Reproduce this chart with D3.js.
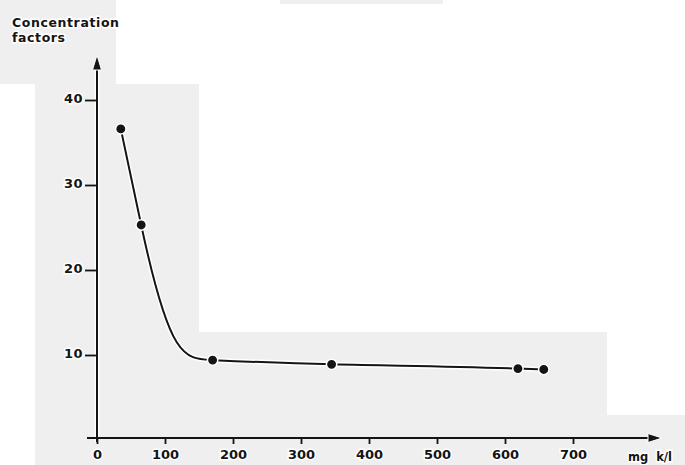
<!DOCTYPE html>
<html>
<head>
<meta charset="utf-8">
<script src="https://cdn.jsdelivr.net/npm/d3@7"></script>
<style>
  html, body { margin: 0; padding: 0; background: #ffffff; }
  svg { display: block; }
  text { font-family: "DejaVu Sans", sans-serif; fill: #141414; }
</style>
</head>
<body>
<svg id="chart" width="685" height="465"></svg>
<script>
// Potassium concentration in the water (mg k/l)
const concentration = [35, 65, 170, 345, 619, 657];
// Concentration factor measured at each level
const factor = [36.6, 25.3, 9.4, 8.9, 8.4, 8.3];

const xTicks = [0, 100, 200, 300, 400, 500, 600, 700];
const yTicks = [10, 20, 30, 40];
const yTitle = ["Concentration", "factors"];
const xUnit = "mg  k/l";

const svg = d3.select("#chart");

// paper tone patches of the printed page
const paper = "#efefef";
const patches = [
  [0, 0, 116, 84],
  [35, 84, 164, 381],
  [199, 332, 408, 133],
  [607, 415, 78, 50],
  [280, 0, 163, 4]
];
svg.append("g").selectAll("rect").data(patches).join("rect")
  .attr("x", d => d[0]).attr("y", d => d[1])
  .attr("width", d => d[2]).attr("height", d => d[3])
  .attr("fill", paper);

const x = d3.scaleLinear().domain([0, 700]).range([97, 573]);
const y = d3.scaleLinear().domain([0, 40]).range([440, 100]);
const axisY = 438;
const ink = "#141414";

// Akima-type spline with straight end conditions, drawn as cubic Béziers
function AkimaCurve(context) { this._context = context; }
AkimaCurve.prototype = {
  areaStart() { this._line = 0; },
  areaEnd() { this._line = NaN; },
  lineStart() { this._xs = []; this._ys = []; },
  point(px, py) { this._xs.push(+px); this._ys.push(+py); },
  lineEnd() {
    const xs = this._xs, ys = this._ys, n = xs.length, c = this._context;
    if (!n) return;
    c.moveTo(xs[0], ys[0]);
    if (n < 3) { for (let i = 1; i < n; i++) c.lineTo(xs[i], ys[i]); return; }
    const s = [];
    for (let i = 0; i < n - 1; i++) s.push((ys[i + 1] - ys[i]) / (xs[i + 1] - xs[i]));
    const S = i => s[Math.max(0, Math.min(n - 2, i))];
    const m = [];
    for (let i = 0; i < n; i++) {
      const w1 = Math.abs(S(i + 1) - S(i)), w2 = Math.abs(S(i - 1) - S(i - 2));
      m.push(w1 + w2 > 1e-9 ? (w1 * S(i - 1) + w2 * S(i)) / (w1 + w2) : (S(i - 1) + S(i)) / 2);
    }
    const k = 0.4;
    for (let i = 0; i < n - 1; i++) {
      const h = xs[i + 1] - xs[i];
      const lo = Math.min(ys[i], ys[i + 1]), hi = Math.max(ys[i], ys[i + 1]);
      const c1 = Math.max(lo, Math.min(hi, ys[i] + m[i] * k * h));
      const c2 = Math.max(lo, Math.min(hi, ys[i + 1] - m[i + 1] * k * h));
      c.bezierCurveTo(xs[i] + k * h, c1, xs[i + 1] - k * h, c2, xs[i + 1], ys[i + 1]);
    }
  }
};
const curveAkima = ctx => new AkimaCurve(ctx);

// white halo under dark strokes, as on the printed figure
function halo(sel, w) {
  return sel.clone(true).lower().attr("stroke", "#ffffff").attr("stroke-width", w);
}

const g = svg.append("g");

// y axis with arrow
const yAxisLine = g.append("line")
  .attr("x1", x(0)).attr("x2", x(0))
  .attr("y1", axisY + 4).attr("y2", 64)
  .attr("stroke", ink).attr("stroke-width", 2);
g.append("path")
  .attr("d", `M${x(0)},55 L${x(0) - 4.5},70 L${x(0) + 4.5},70 Z`)
  .attr("fill", ink).attr("stroke", "#fff").attr("stroke-width", 1);

// x axis with arrow
g.append("line")
  .attr("x1", 87).attr("x2", 652)
  .attr("y1", axisY).attr("y2", axisY)
  .attr("stroke", ink).attr("stroke-width", 2);
g.append("path")
  .attr("d", `M662,${axisY} L648,${axisY - 4.5} L648,${axisY + 4.5} Z`)
  .attr("fill", ink).attr("stroke", "#fff").attr("stroke-width", 1);

// y ticks and labels
const yAxis = g.append("g")
  .attr("transform", `translate(${x(0)},0)`)
  .call(d3.axisLeft(y).tickValues(yTicks).tickSize(12).tickSizeOuter(0).tickPadding(2));
yAxis.select(".domain").remove();
yAxis.selectAll(".tick line").attr("stroke", ink).attr("stroke-width", 1.8);
yAxis.selectAll(".tick text")
  .attr("font-size", 13).attr("font-weight", "bold").attr("dy", "0.2em")
  .attr("letter-spacing", 0.5)
  .attr("fill", ink).attr("font-family", "DejaVu Sans, sans-serif")
  .attr("stroke", "#fff").attr("stroke-width", 3).attr("paint-order", "stroke");

// x ticks and labels
const xAxis = g.append("g")
  .attr("transform", `translate(0,${axisY})`)
  .call(d3.axisBottom(x).tickValues(xTicks).tickSize(6).tickSizeOuter(0).tickPadding(6));
xAxis.select(".domain").remove();
xAxis.selectAll(".tick line").attr("stroke", ink).attr("stroke-width", 1.8);
xAxis.selectAll(".tick text")
  .attr("font-size", 13).attr("font-weight", "bold")
  .attr("fill", ink).attr("font-family", "DejaVu Sans, sans-serif")
  .attr("stroke", "#fff").attr("stroke-width", 3).attr("paint-order", "stroke");

// unit at the end of the x axis
g.append("text")
  .attr("x", 628).attr("y", 461)
  .attr("font-size", 11.5).attr("font-weight", "bold")
  .attr("stroke", "#fff").attr("stroke-width", 3).attr("paint-order", "stroke")
  .attr("xml:space", "preserve")
  .text(xUnit);

// axis title
g.append("g").selectAll("text").data(yTitle).join("text")
  .attr("x", 12).attr("y", (d, i) => 27 + i * 15)
  .attr("font-size", 12.5).attr("font-weight", "bold").attr("letter-spacing", 0.6)
  .attr("stroke", "#fff").attr("stroke-width", 3).attr("paint-order", "stroke")
  .text(d => d);

// smooth curve through the measurements
const pts = concentration.map((c, i) => [c, factor[i]]);
const line = d3.line().x(d => x(d[0])).y(d => y(d[1])).curve(curveAkima);
const curve = g.append("path")
  .attr("d", line(pts))
  .attr("fill", "none").attr("stroke", ink).attr("stroke-width", 2);
halo(curve, 5);

// measured points
g.append("g").selectAll("circle").data(pts).join("circle")
  .attr("cx", d => x(d[0])).attr("cy", d => y(d[1]))
  .attr("r", 5.2)
  .attr("fill", ink).attr("stroke", "#fff").attr("stroke-width", 1.5);

halo(yAxisLine, 5);
</script>
</body>
</html>
